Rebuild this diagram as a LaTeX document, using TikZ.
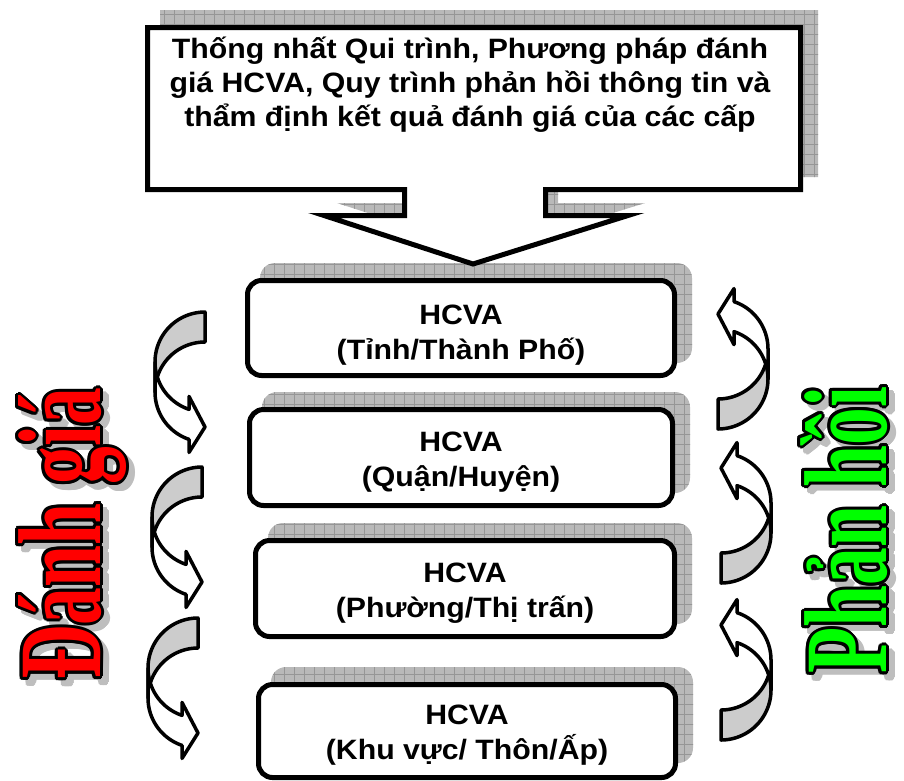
\documentclass[tikz,border=0pt]{standalone}
\usepackage{fontspec}
\setmainfont{Liberation Sans}
\newfontfamily\wafont{Liberation Serif}
\definecolor{warred}{RGB}{255,0,0}
\definecolor{wagreen}{RGB}{0,255,0}
\definecolor{shadegray}{RGB}{185,185,185}
\definecolor{gridgray}{RGB}{150,150,150}
\definecolor{backgray}{RGB}{204,204,204}
\definecolor{txtshadow}{RGB}{190,190,190}

\newcommand\gridfill{%
  \fill[shadegray] (0,0) rectangle (904,780);
  \foreach \gx in {4,14,...,904} {\draw[gridgray, line width=0.6pt] (\gx,0) -- (\gx,780);}
  \foreach \gy in {4,14,...,784} {\draw[gridgray, line width=0.6pt] (0,\gy) -- (904,\gy);}
}
\newcommand\watext[1]{\scalebox{0.64}[1]{\wafont\bfseries\fontsize{118}{120}\selectfont #1}}

\tikzset{
  arrowline/.style={draw=black, line width=3.5pt, line join=round},
  hbox/.style={draw=black, line width=5pt, fill=white, rounded corners=14pt, inner sep=0pt},
  hlabel/.style={font=\bfseries\fontsize{28}{35}\selectfont, align=center, inner sep=0pt, xscale=1.08},
  toplabel/.style={font=\bfseries\fontsize{28}{34}\selectfont, align=center, inner sep=0pt, xscale=1.08},
  wordart/.style={rotate=90, anchor=base, inner sep=0pt},
  curvarrow/.pic={
    \begin{scope}[shift={(-25,-71.5)}]
      \filldraw[arrowline, fill=backgray]
        plot[domain=270:180, samples=30, variable=\t] ({50+50*cos(\t)},{50+50*sin(\t)})
        -- plot[domain=180:270, samples=30, variable=\t] ({50+50*cos(\t)},{80+50*sin(\t)})
        -- cycle;
      \filldraw[arrowline, fill=white]
        plot[domain=180:108.66, samples=30, variable=\t] ({50+50*cos(\t)},{50+50*sin(\t)})
        -- (34,84.4) -- (50,115) -- (34,140.4) -- (34,127.4)
        -- plot[domain=108.66:180, samples=30, variable=\t] ({50+50*cos(\t)},{80+50*sin(\t)})
        -- cycle;
    \end{scope}
  }
}

\begin{document}
\begin{tikzpicture}[x=1pt, y=-1pt]
\useasboundingbox (0,0) rectangle (904,780);

% shadows
\begin{scope}
  \clip (160,10) -- (818,10) -- (818,177) -- (558,177) -- (558,203) -- (645,203)
        -- (488,252) -- (337,203) -- (422,203) -- (422,177) -- (160,177) -- cycle;
  \gridfill
\end{scope}
\begin{scope}
  \clip[rounded corners=15pt] (260,263) rectangle (692,363) (262,392) rectangle (690,493)
        (268,523) rectangle (692,624) (271,667) rectangle (693,763);
  \gridfill
\end{scope}

% curved arrows, left (Đánh giá) and right (Phản hồi)
\pic (la1) at (180,383.5) {curvarrow};
\pic (la2) at (177,538.5) {curvarrow};
\pic (la3) at (173,689.5) {curvarrow};
\pic[rotate=180] (ra1) at (743,357.5) {curvarrow};
\pic[rotate=180] (ra2) at (746,511.5) {curvarrow};
\pic[rotate=180] (ra3) at (746,668.5) {curvarrow};

% callout
\draw[line width=5pt, fill=white, line join=miter]
  (147.5,27.5) -- (800.5,27.5) -- (800.5,189.5) -- (545.5,189.5) -- (545.5,215.5)
  -- (628,215.5) -- (473,264) -- (324,215.5) -- (404.5,215.5) -- (404.5,189.5)
  -- (147.5,189.5) -- cycle;
\node[toplabel] (ct) at (470,85) {Thống nhất Qui trình, Phương pháp đánh\\giá HCVA, Quy trình phản hồi thông tin và\\thẩm định kết quả đánh giá của các cấp};

% boxes
\node[hbox, minimum width=427pt, minimum height=95pt] (b1) at (461,328) {};
\node[hbox, minimum width=423pt, minimum height=96pt] (b2) at (461,457.5) {};
\node[hbox, minimum width=419pt, minimum height=96pt] (b3) at (465,588.5) {};
\node[hbox, minimum width=417pt, minimum height=93pt] (b4) at (467,731) {};
\node[hlabel] (t1) at (461,335) {HCVA\\(Tỉnh/Thành Phố)};
\node[hlabel] (t2) at (461,462.5) {HCVA\\(Quận/Huyện)};
\node[hlabel] (t3) at (465,593.5) {HCVA\\(Phường/Thị trấn)};
\node[hlabel] (t4) at (467,735.5) {HCVA\\(Khu vực/ Thôn/Ấp)};

% word art texts
\foreach \a in {0,30,...,330} {\node[wordart, text=txtshadow] (dgs\a) at ({106+3*cos(\a)},{540+3*sin(\a)}) {\watext{Đánh giá}};}
\foreach \a in {0,30,...,330} {\node[wordart, text=black] (dgo\a) at ({100+3*cos(\a)},{534+3*sin(\a)}) {\watext{Đánh giá}};}
\node[wordart, text=warred] (dg) at (100,534) {\watext{Đánh giá}};

\foreach \a in {0,30,...,330} {\node[wordart, text=txtshadow] (phs\a) at ({892+3*cos(\a)},{536+3*sin(\a)}) {\watext{Phản hồi}};}
\foreach \a in {0,30,...,330} {\node[wordart, text=black] (pho\a) at ({886+3*cos(\a)},{530+3*sin(\a)}) {\watext{Phản hồi}};}
\node[wordart, text=wagreen] (ph) at (886,530) {\watext{Phản hồi}};
\end{tikzpicture}
\end{document}
